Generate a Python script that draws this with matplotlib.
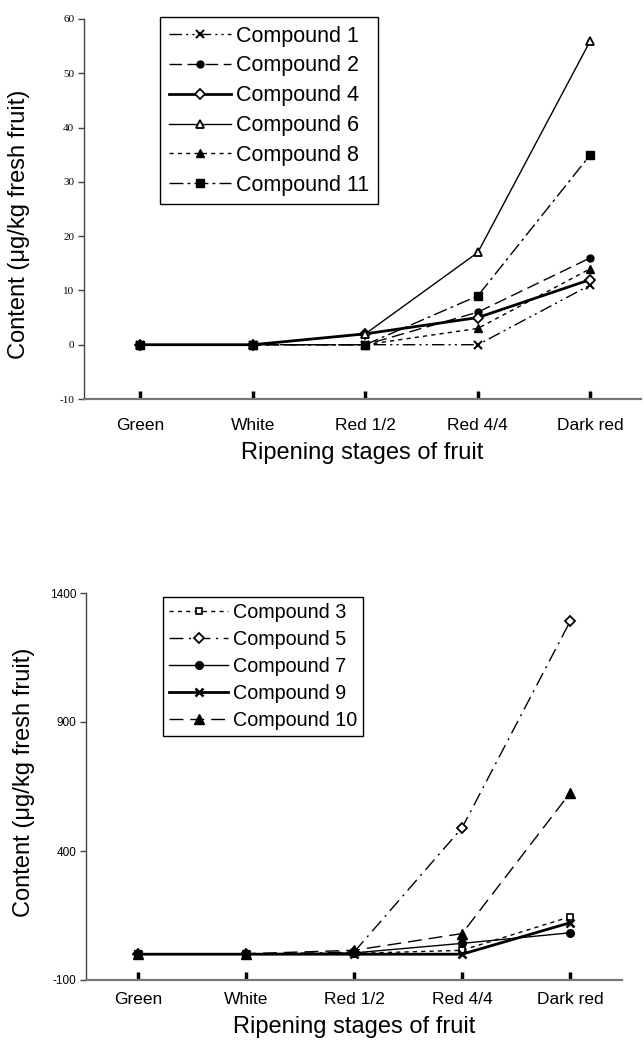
import numpy as np
import matplotlib
matplotlib.use('Agg')
import matplotlib.pyplot as plt

plt.rcParams['font.family'] = ['Liberation Sans', 'DejaVu Sans']
plt.rcParams['axes.unicode_minus'] = False

stages = ['Green', 'White', 'Red 1/2', 'Red 4/4', 'Dark red']

# top panel (µg/kg)
c1 = [0, 0, 0, 0, 11]
c2 = [0, 0, 0, 6, 16]
c4 = [0, 0, 2, 5, 12]
c6 = [0, 0, 2, 17, 56]
c8 = [0, 0, 0, 3, 14]
c11 = [0, 0, 0, 9, 35]

# bottom panel (µg/kg)
c3 = [0, 0, 3, 15, 145]
c5 = [0, 0, 8, 490, 1290]
c7 = [0, 0, 5, 42, 83]
c9 = [0, 0, 0, 0, 122]
c10 = [0, 2, 15, 80, 625]

x = np.arange(len(stages))
ylab = 'Content (\u03bcg/kg fresh fruit)'

fig = plt.figure(figsize=(6.43, 10.41), dpi=100)


def style_axes(ax, tickfont, tsize, xpad):
    ax.spines['top'].set_visible(False)
    ax.spines['right'].set_visible(False)
    ax.spines['left'].set_color('#444444')
    ax.spines['left'].set_linewidth(1.0)
    ax.spines['bottom'].set_color('#777777')
    ax.spines['bottom'].set_linewidth(1.6)
    ax.set_xticks(x)
    ax.set_xticklabels(stages, fontsize=12.5)
    ax.tick_params(axis='x', direction='in', length=6, width=2.5, color='black', pad=xpad)
    ax.tick_params(axis='y', direction='out', length=4, width=1, color='#444444', pad=3)
    for lab in ax.get_yticklabels():
        lab.set_family(tickfont)
        lab.set_fontsize(tsize)
    ax.set_xlabel('Ripening stages of fruit', fontsize=17, labelpad=6)
    ax.set_ylabel(ylab, fontsize=17)


def box_legend(ax, anchor, fs, hl, ls, bp):
    leg = ax.legend(loc='upper left', bbox_to_anchor=anchor, bbox_transform=fig.transFigure,
                    borderaxespad=0, fontsize=fs, handlelength=hl, handletextpad=0.25,
                    labelspacing=ls, borderpad=bp, fancybox=False, framealpha=1)
    leg.get_frame().set_edgecolor('black')
    leg.get_frame().set_linewidth(1)
    return leg


# ---- top chart
ax1 = fig.add_axes([84/643, 1-399/1041, 557/643, 380/1041])
ax1.plot(x, c1, color='k', lw=1, ls=(0, (9, 3, 1.5, 3, 1.5, 3)), marker='x', ms=6, mew=1.5, label='Compound 1')
ax1.plot(x, c2, color='k', lw=1, ls=(0, (9, 4)), marker='o', ms=5, label='Compound 2')
ax1.plot(x, c4, color='k', lw=2, ls='-', marker='D', ms=5, mfc='white', mew=1.3, label='Compound 4')
ax1.plot(x, c6, color='k', lw=1, ls='-', marker='^', ms=6, mfc='white', mew=1.3, label='Compound 6')
ax1.plot(x, c8, color='k', lw=1, ls=(0, (3, 3)), marker='^', ms=6, label='Compound 8')
ax1.plot(x, c11, color='k', lw=1, ls=(0, (10, 3, 2, 3)), marker='s', ms=5.5, label='Compound 11')
ax1.set_xlim(-0.5, 4.45)
ax1.set_ylim(-10, 60)
ax1.set_yticks(np.arange(-10, 61, 10))
style_axes(ax1, 'Liberation Serif', 8, 14)
ax1.yaxis.set_label_coords(-0.097, 0.46)
box_legend(ax1, (160/643, 1-17/1041), 15.5, 2.9, 0.41, 0.4)

# ---- bottom chart
ax2 = fig.add_axes([86/643, 1-980/1041, 536/643, 387/1041])
ax2.plot(x, c3, color='k', lw=1, ls=(0, (3, 3)), marker='s', ms=5, mfc='white', mew=1.2, label='Compound 3')
ax2.plot(x, c5, color='k', lw=1, ls=(0, (10, 4, 1.5, 4)), marker='D', ms=5, mfc='white', mew=1.3, label='Compound 5')
ax2.plot(x, c7, color='k', lw=1, ls='-', marker='o', ms=5.5, label='Compound 7')
ax2.plot(x, c9, color='k', lw=2, ls='-', marker='x', ms=6, mew=1.8, label='Compound 9')
ax2.plot(x, c10, color='k', lw=1, ls=(0, (10, 5)), marker='^', ms=6.5, label='Compound 10')
ax2.set_xlim(-0.48, 4.48)
ax2.set_ylim(-100, 1400)
ax2.set_yticks([-100, 400, 900, 1400])
style_axes(ax2, 'Liberation Sans', 8.5, 9)
ax2.yaxis.set_label_coords(-0.095, 0.51)
box_legend(ax2, (163/643, 1-597/1041), 14.2, 3.0, 0.41, 0.3)

fig.savefig('out.png', dpi=100)
